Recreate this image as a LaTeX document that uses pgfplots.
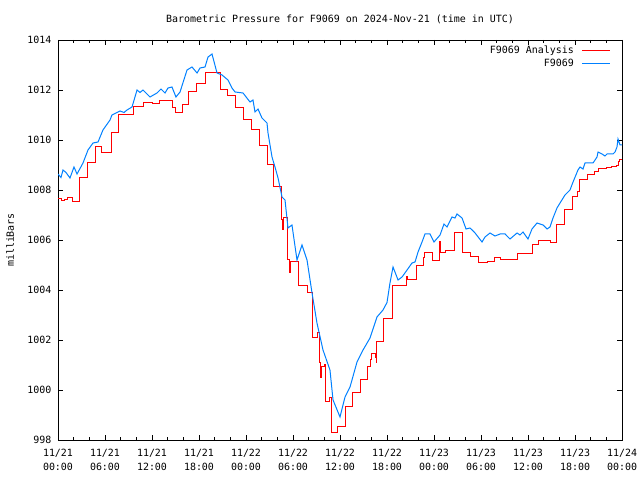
\documentclass[border=0pt]{standalone}
\usepackage{fontspec}
\setmainfont{DejaVu Sans Mono}
\usepackage{pgfplots}
\pgfplotsset{compat=1.18}
\definecolor{gpred}{RGB}{255,0,0}
\definecolor{gpblue}{RGB}{0,128,255}
\begin{document}
\fontsize{10}{14}\selectfont
\begin{tikzpicture}
\path[use as bounding box] (0,0) rectangle (640bp,480bp);
\begin{axis}[
  at={(58bp,40bp)}, anchor=south west,
  scale only axis, width=564bp, height=400bp,
  xmin=0, xmax=72, ymin=998, ymax=1014,
  xtick={0,6,...,72},
  xticklabels={11/21\\00:00,11/21\\06:00,11/21\\12:00,11/21\\18:00,11/22\\00:00,11/22\\06:00,11/22\\12:00,11/22\\18:00,11/23\\00:00,11/23\\06:00,11/23\\12:00,11/23\\18:00,11/24\\00:00},
  minor x tick num=2,
  ytick={998,1000,...,1014},
  yticklabels={998,1000,1002,1004,1006,1008,1010,1012,1014},
  tick align=inside,
  major tick length=5bp, minor tick length=3bp,
  every tick/.style={black, line width=0.8bp},
  axis line style={black, line width=0.8bp},
  xticklabel style={align=center, yshift=-6bp, font=\fontsize{10}{14}\selectfont},
  yticklabel style={xshift=-3bp, font=\fontsize{10}{14}\selectfont},
  title={Barometric Pressure for F9069 on 2024-Nov-21 (time in UTC)},
  title style={at={(axis description cs:0.5,1)}, anchor=center, yshift=15bp, font=\fontsize{10}{14}\selectfont},
  ylabel={milliBars},
  ylabel style={at={(axis description cs:-0.085,0.5)}, anchor=center, font=\fontsize{10}{14}\selectfont},
  legend style={at={(axis description cs:1,1)}, anchor=north east, draw=none, fill=none, xshift=-8bp, yshift=-2bp, row sep=0bp, font=\fontsize{10}{14}\selectfont},
  legend plot pos=right,
  legend cell align=right,
  legend image code/.code={\path (0bp,0bp); \draw[#1] (6bp,0bp) -- (34bp,0bp);},
]
\addplot[gpred, line width=1bp] coordinates {
(0,1007.64) (0.51,1007.64)
(0.51,1007.57) (0.89,1007.57)
(0.89,1007.60) (1.15,1007.60)
(1.15,1007.68) (1.79,1007.68)
(1.79,1007.52) (2.74,1007.52)
(2.74,1008.48) (3.77,1008.48)
(3.77,1009.08) (4.79,1009.08)
(4.79,1009.72) (5.49,1009.72)
(5.49,1009.48) (6.77,1009.48)
(6.77,1010.28) (7.66,1010.28)
(7.66,1011.00) (9.64,1011.00)
(9.64,1011.32) (10.91,1011.32)
(10.91,1011.48) (12.00,1011.48)
(12.00,1011.44) (13.02,1011.44)
(13.02,1011.56) (14.68,1011.56)
(14.68,1011.30) (14.94,1011.30)
(14.94,1011.08) (15.89,1011.08)
(15.89,1011.40) (16.72,1011.40)
(16.72,1011.92) (17.68,1011.92)
(17.68,1012.24) (18.89,1012.24)
(18.89,1012.68) (20.74,1012.68)
(20.74,1012.00) (21.64,1012.00)
(21.64,1011.76) (22.66,1011.76)
(22.66,1011.28) (23.68,1011.28)
(23.68,1010.80) (24.70,1010.80)
(24.70,1010.40) (25.72,1010.40)
(25.72,1009.76) (26.74,1009.76)
(26.74,1009.00) (27.45,1009.00)
(27.45,1008.12) (28.53,1008.12)
(28.53,1006.80) (28.72,1006.80)
(28.72,1006.40) (28.85,1006.40)
(28.85,1006.88) (29.30,1006.88)
(29.30,1005.20) (29.49,1005.20)
(29.49,1004.68) (29.62,1004.68)
(29.62,1005.12) (30.64,1005.12)
(30.64,1004.16) (31.79,1004.16)
(31.79,1003.88) (32.49,1003.88)
(32.49,1002.08) (33.19,1002.08)
(33.19,1002.28) (33.32,1002.28)
(33.32,1001.08) (33.51,1001.08)
(33.51,1000.48) (33.70,1000.48)
(33.70,1000.92) (33.96,1000.92)
(33.96,1001.00) (34.21,1001.00)
(34.21,999.52) (34.60,999.52)
(34.60,999.68) (34.91,999.68)
(34.91,998.28) (35.68,998.28)
(35.68,998.52) (36.70,998.52)
(36.70,999.32) (37.60,999.32)
(37.60,999.88) (38.62,999.88)
(38.62,1000.40) (39.51,1000.40)
(39.51,1000.92) (39.83,1000.92)
(39.83,1001.20) (40.02,1001.20)
(40.02,1001.44) (40.47,1001.44)
(40.47,1001.30) (40.60,1001.30)
(40.60,1001.08) (40.72,1001.08)
(40.72,1001.92) (41.55,1001.92)
(41.55,1002.84) (42.70,1002.84)
(42.70,1004.16) (44.55,1004.16)
(44.55,1004.52) (44.68,1004.52)
(44.68,1004.40) (45.77,1004.40)
(45.77,1004.96) (46.60,1004.96)
(46.60,1005.28) (46.79,1005.28)
(46.79,1005.48) (47.87,1005.48)
(47.87,1005.16) (48.70,1005.16)
(48.70,1005.92) (48.89,1005.92)
(48.89,1005.48) (49.53,1005.48)
(49.53,1005.56) (50.62,1005.56)
(50.62,1006.28) (51.64,1006.28)
(51.64,1005.48) (52.72,1005.48)
(52.72,1005.32) (53.68,1005.32)
(53.68,1005.08) (54.83,1005.08)
(54.83,1005.12) (55.66,1005.12)
(55.66,1005.28) (56.43,1005.28)
(56.43,1005.20) (58.66,1005.20)
(58.66,1005.44) (60.57,1005.44)
(60.57,1005.80) (61.28,1005.80)
(61.28,1005.96) (62.87,1005.96)
(62.87,1005.88) (63.64,1005.88)
(63.64,1006.60) (64.60,1006.60)
(64.60,1007.20) (65.68,1007.20)
(65.68,1007.72) (66.26,1007.72)
(66.26,1007.92) (66.57,1007.92)
(66.57,1008.40) (67.60,1008.40)
(67.60,1008.60) (68.43,1008.60)
(68.43,1008.72) (68.94,1008.72)
(68.94,1008.84) (69.96,1008.84)
(69.96,1008.88) (70.72,1008.88)
(70.72,1008.92) (71.36,1008.92)
(71.36,1008.96) (71.49,1008.96)
(71.49,1009.12) (71.74,1009.12)
(71.74,1009.20) (72,1009.20)
};
\addlegendentry{F9069 Analysis}
\addplot[gpblue, line width=1bp] coordinates {
(0,1008.64) (0.38,1008.50) (0.64,1008.80) (1.02,1008.70) (1.53,1008.48)
(2.04,1008.92) (2.43,1008.64) (3.19,1009.08) (3.83,1009.60) (4.47,1009.88)
(5.11,1009.92) (5.74,1010.40) (6.64,1010.80) (6.89,1011.00) (7.92,1011.16)
(8.43,1011.10) (8.81,1011.20) (9.45,1011.32) (10.09,1012.00) (10.47,1011.90)
(10.85,1012.00) (11.74,1011.72) (12.64,1011.88) (13.15,1012.04) (13.66,1011.88)
(14.04,1012.08) (14.55,1012.12) (15.06,1011.72) (15.58,1011.92) (16.47,1012.80)
(17.11,1012.92) (17.75,1012.68) (18.13,1012.88) (18.77,1012.92) (19.15,1013.32)
(19.66,1013.44) (20.30,1012.68) (20.94,1012.60) (21.70,1012.40) (22.21,1012.08)
(22.60,1011.92) (23.62,1011.88) (24.51,1011.52) (24.89,1011.60) (25.15,1011.12)
(25.53,1011.24) (26.04,1010.88) (26.68,1010.68) (26.81,1010.28) (27.32,1009.32)
(27.70,1008.92) (28.09,1008.48) (28.60,1007.72) (28.98,1007.60) (29.36,1006.48)
(29.87,1006.60) (30.51,1005.20) (31.15,1005.80) (31.79,1005.20) (32.43,1003.88)
(33.06,1002.68) (33.83,1001.60) (34.72,1000.80) (35.11,999.60) (36.00,998.92)
(36.64,999.72) (37.28,1000.12) (38.17,1001.12) (38.94,1001.60) (39.83,1002.08)
(40.72,1002.92) (41.49,1003.20) (42.00,1003.50) (42.38,1004.28) (42.77,1004.92)
(43.41,1004.40) (43.92,1004.52) (44.56,1004.80) (45.19,1005.08) (45.58,1005.12)
(45.96,1005.52) (46.47,1005.92) (46.85,1006.24) (47.49,1006.24) (48.00,1005.92)
(48.77,1006.20) (49.28,1006.64) (49.66,1006.52) (50.30,1006.92) (50.68,1006.88)
(50.94,1007.04) (51.58,1006.88) (52.09,1006.44) (52.60,1006.48) (53.24,1006.28)
(54.13,1005.92) (54.51,1006.12) (55.15,1006.28) (55.79,1006.16) (56.43,1006.24)
(57.07,1006.24) (57.70,1006.04) (58.60,1006.28) (58.98,1006.20) (59.36,1006.32)
(60.00,1006.04) (60.51,1006.44) (61.15,1006.68) (61.53,1006.64) (61.92,1006.60)
(62.43,1006.44) (62.81,1006.52) (63.19,1006.88) (63.70,1007.28) (64.09,1007.48)
(64.72,1007.80) (65.36,1008.00) (65.75,1008.32) (66.38,1008.80) (66.64,1008.92)
(67.02,1008.84) (67.28,1009.08) (68.30,1009.08) (68.81,1009.32) (68.94,1009.52)
(69.45,1009.44) (69.83,1009.36) (70.09,1009.44) (70.85,1009.44) (71.11,1009.52)
(71.36,1009.72) (71.49,1010.04) (71.74,1009.80) (72,1009.80)
};
\addlegendentry{F9069}
\end{axis}
\end{tikzpicture}
\end{document}
